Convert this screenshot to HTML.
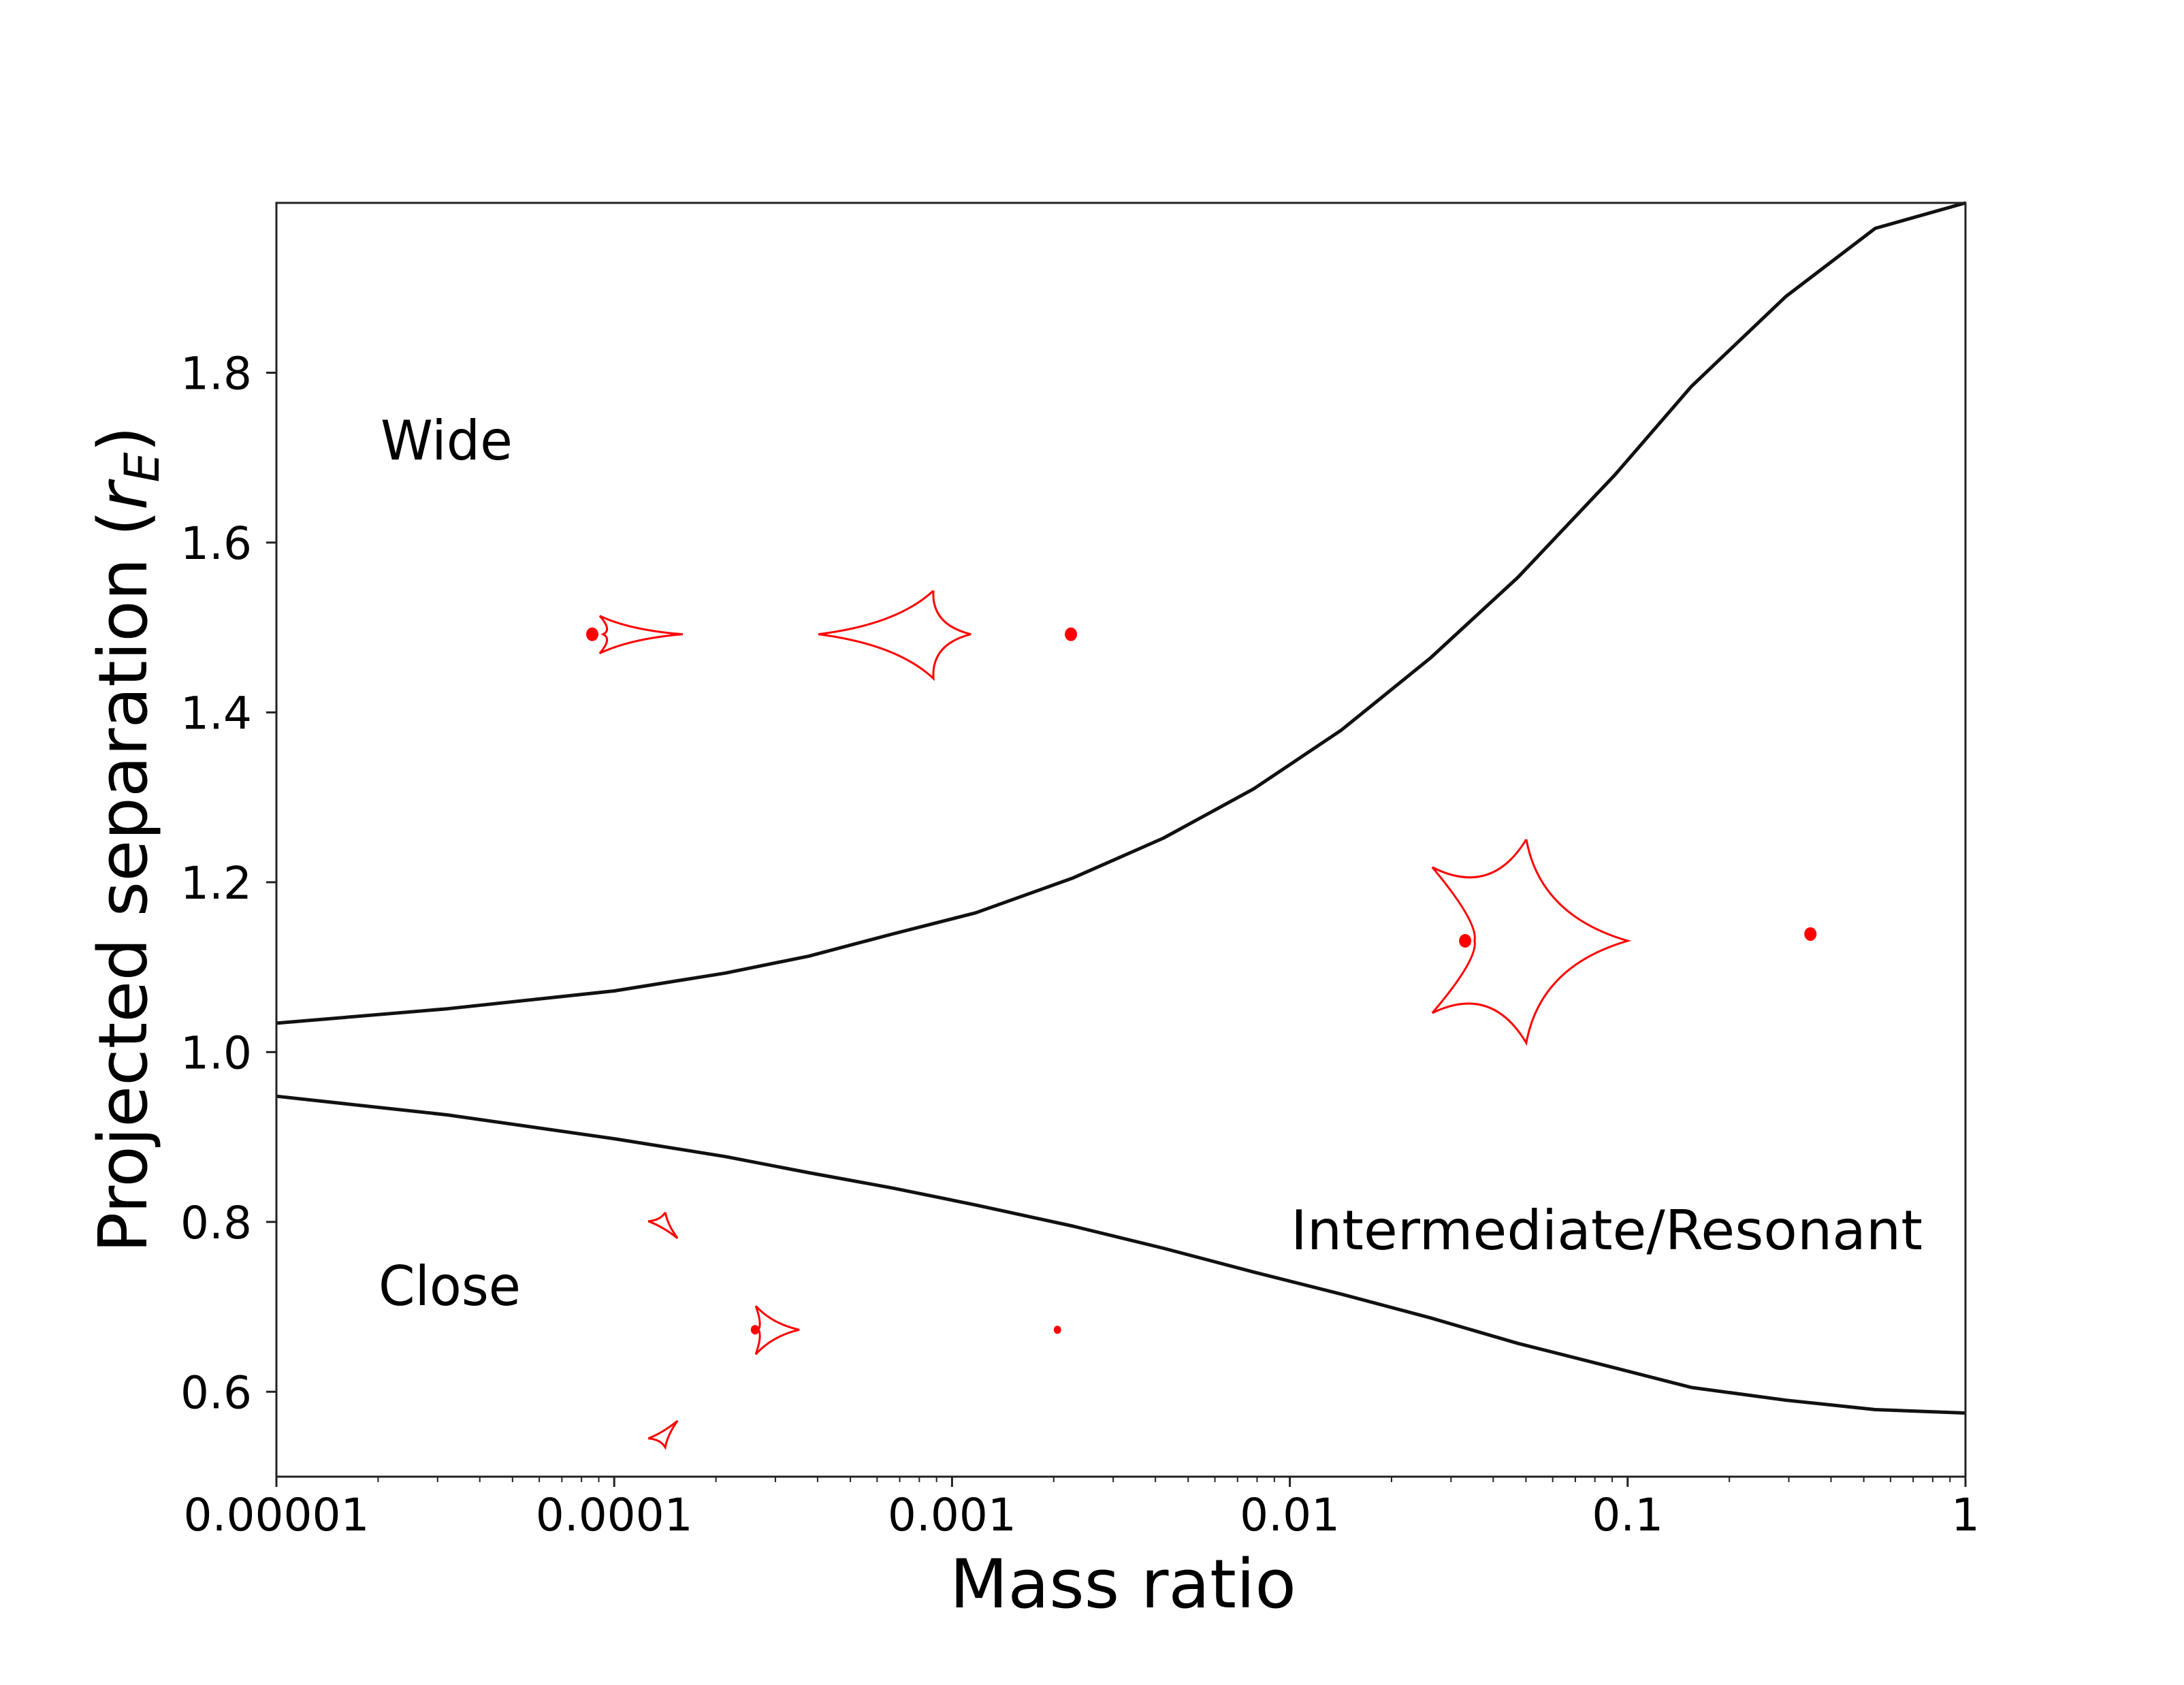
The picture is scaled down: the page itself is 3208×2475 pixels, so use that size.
<!DOCTYPE html>
<html><head><meta charset="utf-8"><style>
html,body{margin:0;padding:0;background:#fff;}
svg{display:block;}
text{font-family:"DejaVu Sans","Liberation Sans",sans-serif;fill:#000;}
</style></head><body>
<svg id="chart" width="3208" height="2475" viewBox="0 0 3208 2475" xmlns="http://www.w3.org/2000/svg">
<rect x="0" y="0" width="3208" height="2475" fill="#fff"/>
<g id="plot"></g>
<text x="559" y="675" font-size="80" textLength="194" lengthAdjust="spacingAndGlyphs">Wide</text>
<text x="556" y="1917" font-size="80" textLength="209" lengthAdjust="spacingAndGlyphs">Close</text>
<text x="1896" y="1835" font-size="80" textLength="928" lengthAdjust="spacingAndGlyphs">Intermediate/Resonant</text>
<text x="1395" y="2361" font-size="99" textLength="509" lengthAdjust="spacingAndGlyphs">Mass ratio</text>
<text transform="translate(215,1233) rotate(-90)" text-anchor="middle" font-size="99">Projected separation (<tspan font-style="italic">r</tspan><tspan font-style="italic" font-size="70" dy="18">E</tspan><tspan dy="-18">)</tspan></text>
</svg>
<script>
// data
const massRatioLog = [-5,-4.494,-4,-3.671,-3.424,-3.177,-2.93,-2.642,-2.374,-2.107,-1.848,-1.584,-1.325,-1.037,-0.811,-0.531,-0.267,0];
const wideBoundary = [1.034,1.051,1.072,1.093,1.113,1.139,1.164,1.205,1.252,1.310,1.379,1.464,1.559,1.680,1.784,1.890,1.970,2.0];
const closeBoundary = [0.948,0.926,0.898,0.877,0.852,0.820,0.795,0.769,0.741,0.715,0.687,0.657,0.628,0.605,0.590,0.579,0.575];
const closeMassLog = [-5,-4.494,-4,-3.671,-3.424,-3.177,-2.93,-2.642,-2.374,-2.107,-1.848,-1.584,-1.325,-1.037,-0.811,-0.531,-0.267,0];
const closeVals = [0.948,0.926,0.898,0.877,0.858,0.840,0.820,0.795,0.769,0.741,0.715,0.687,0.657,0.628,0.605,0.590,0.579,0.575];
const xTickLabels = ["0.00001","0.0001","0.001","0.01","0.1","1"];
const xTickLogs = [-5,-4,-3,-2,-1,0];
const yTickValues = [0.6,0.8,1.0,1.2,1.4,1.6,1.8];
const yTickLabels = ["0.6","0.8","1.0","1.2","1.4","1.6","1.8"];
// caustic anchor positions (log q, separation)
const causticLogQ = [-4.043,-3.055,-1.300,-3.581,-3.867,-3.867];
const causticSep = [1.492,1.492,1.131,0.673,0.796,0.549];
const lensLogQ = [-4.065,-2.648,-1.481,-3.583,-2.688,-0.459];
const lensSep = [1.492,1.492,1.131,0.673,0.673,1.139];

const L=406,R=2887,T=298,B=2169;
const xs = lg => L + (lg+5)/5*(R-L);
const ys = v => B - (v-0.5)/1.5*(B-T);
const NS="http://www.w3.org/2000/svg";
const plot=document.getElementById('plot');
function mk(tag,attrs){const e=document.createElementNS(NS,tag);for(const k in attrs)e.setAttribute(k,attrs[k]);return e;}

// curves
function curve(xsArr,vals,name){
  let d='';vals.forEach((v,i)=>{d+=(i?'L':'M')+xs(xsArr[i]).toFixed(1)+','+ys(v).toFixed(1);});
  const p=mk('path',{d:d,fill:'none',stroke:'#111',"stroke-width":5,"stroke-linejoin":"round"});
  
  
  plot.appendChild(p);
}
curve(massRatioLog,wideBoundary,'wide-boundary-curve');
curve(closeMassLog,closeVals,'close-boundary-curve');

// caustic shapes (pixel offsets of cusps relative to anchor)
const shapes=[
 {c:[[0,-27],[122,0],[0,28],[5,0]],k:0.55,name:'caustic-wide-small'},
 {c:[[0,-64],[55,0],[0,65],[-169,0]],k:0.55,name:'caustic-wide-large'},
 {c:[[0,-149],[149,0],[0,150],[-138,106],[-76,0],[-138,-108]],k:0.5,name:'caustic-resonant'},
 {c:[[0,-35],[64,0],[0,36],[4,0]],k:0.5,name:'caustic-close-central'},
 {c:[[9,-19],[27,19],[-16,-6]],k:0.5,name:'caustic-close-upper'},
 {c:[[-16,5],[27,-21],[9,18]],k:0.5,name:'caustic-close-lower'}
];
shapes.forEach((s,i)=>{
  const ax=xs(causticLogQ[i]), ay=ys(causticSep[i]);
  const pts=s.c.map(p=>[ax+p[0],ay+p[1]]);
  const cx=pts.reduce((a,p)=>a+p[0],0)/pts.length, cy=pts.reduce((a,p)=>a+p[1],0)/pts.length;
  let d='M'+pts[0][0]+','+pts[0][1];
  for(let j=0;j<pts.length;j++){
    const a=pts[j],b=pts[(j+1)%pts.length];
    const mx=(a[0]+b[0])/2,my=(a[1]+b[1])/2;
    const qx=mx+(cx-mx)*s.k,qy=my+(cy-my)*s.k;
    d+=' Q'+qx.toFixed(1)+','+qy.toFixed(1)+' '+b[0].toFixed(1)+','+b[1].toFixed(1);
  }
  const p=mk('path',{d:d,fill:'none',stroke:'#ff0000',"stroke-width":3});
  
  
  plot.appendChild(p);
});
const lensR=[10,10,10,7,6,10];
lensLogQ.forEach((lg,i)=>{
  const c=mk('ellipse',{cx:xs(lg),cy:ys(lensSep[i]),rx:lensR[i]*0.9,ry:lensR[i],fill:'#ff0000'});
  
  
  plot.appendChild(c);
});

// axes frame
const frame=mk('rect',{x:L,y:T,width:R-L,height:B-T,fill:'none',stroke:'#222',"stroke-width":3});


plot.appendChild(frame);

// x ticks
xTickLogs.forEach((lg,i)=>{
  const x=xs(lg);
  const t=mk('line',{x1:x,y1:B,x2:x,y2:B+15,stroke:'#222',"stroke-width":3});
  
  
  plot.appendChild(t);
  const tx=mk('text',{x:x,y:2248,"text-anchor":"middle","font-size":66});
  tx.textContent=xTickLabels[i];
  
  
  plot.appendChild(tx);
  if(lg<0){for(let m=2;m<=9;m++){
    const mx=xs(lg+Math.log10(m));
    const mt=mk('line',{x1:mx,y1:B,x2:mx,y2:B+8,stroke:'#222',"stroke-width":2});
    
    
    plot.appendChild(mt);
  }}
});
// y ticks
yTickValues.forEach((v,i)=>{
  const y=ys(v);
  const t=mk('line',{x1:L-15,y1:y,x2:L,y2:y,stroke:'#222',"stroke-width":3});
  
  
  plot.appendChild(t);
  const tx=mk('text',{x:370,y:y+24,"text-anchor":"end","font-size":66});
  tx.textContent=yTickLabels[i];
  
  
  plot.appendChild(tx);
});
</script>
</body></html>
